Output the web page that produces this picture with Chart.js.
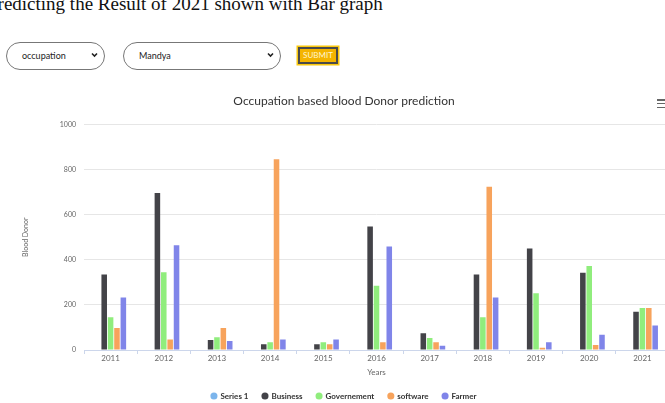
<!DOCTYPE html>
<html>
<head>
<meta charset="utf-8">
<script src="https://cdn.jsdelivr.net/npm/chart.js@4"></script>
<style>
  html, body { margin: 0; padding: 0; background: #fff; }
  body { width: 665px; height: 403px; overflow: hidden; position: relative; font-family: Lato, sans-serif; }
  h2 { position: absolute; left: -13px; top: -6px; margin: 0; font: normal 19px/19px "Liberation Serif", serif; color: #111; white-space: nowrap; }
  .sel { position: absolute; top: 42px; height: 28px; box-sizing: border-box; border: 1.5px solid #777; border-radius: 14px;
         font-size: 9px; color: #222; line-height: 25px; padding-left: 15px; background: #fff; }
  .sel svg { position: absolute; right: 6px; top: 9px; }
  #btn { position: absolute; left: 298px; top: 47px; width: 40px; height: 17px; box-sizing: border-box; background: #f4b400;
         border: 2px solid #4a4a4a; box-shadow: 0 0 0 1.5px #f9c80e; color: #fff4d0; font-size: 8px; line-height: 13px; text-align: center; }
  #menu { position: absolute; left: 657px; top: 99px; width: 12px; }
  #menu i { display: block; height: 1.6px; background: #666; margin-bottom: 2.3px; }
  #wrap { position: absolute; left: 0; top: 85px; }
</style>
</head>
<body>
<h2>Predicting the Result of 2021 shown with Bar graph</h2>
<div class="sel" style="left:6px;width:99px">occupation<svg width="7" height="6" viewBox="0 0 7 6"><path d="M1 1.5 L3.5 4 L6 1.5" stroke="#222" stroke-width="1.6" fill="none"/></svg></div>
<div class="sel" style="left:123px;width:158px">Mandya<svg width="7" height="6" viewBox="0 0 7 6"><path d="M1 1.5 L3.5 4 L6 1.5" stroke="#222" stroke-width="1.6" fill="none"/></svg></div>
<div id="btn">SUBMIT</div>
<div id="wrap"><canvas id="chart" width="688" height="325"></canvas></div>
<div id="menu"><i></i><i></i><i></i></div>
<script>
  const years = ['2011', '2012', '2013', '2014', '2015', '2016', '2017', '2018', '2019', '2020', '2021'];
  const series1 = [null, null, null, null, null, null, null, null, null, null, null];
  const business = [335, 696, 44, 25, 25, 547, 74, 335, 450, 342, 170];
  const governement = [145, 345, 56, 34, 34, 285, 53, 145, 252, 372, 186];
  const software = [97, 47, 97, 845, 25, 34, 34, 724, 10, 22, 186];
  const farmer = [233, 464, 40, 47, 47, 459, 19, 233, 34, 68, 109];

  Chart.defaults.font.family = 'Lato, sans-serif';
  const ds = (label, data, color) => ({ label, data, backgroundColor: color, borderWidth: 0 });

  new Chart(document.getElementById('chart'), {
    type: 'bar',
    data: {
      labels: years,
      datasets: [
        ds('Series 1', series1, '#7cb5ec'),
        ds('Business', business, '#434348'),
        ds('Governement', governement, '#90ed7d'),
        ds('software', software, '#f7a35c'),
        ds('Farmer', farmer, '#8085e9'),
      ],
    },
    options: {
      responsive: false,
      animation: false,
      datasets: { bar: { categoryPercentage: 0.6, barPercentage: 0.87 } },
      plugins: {
        title: { display: true, text: 'Occupation based blood Donor prediction', color: '#333', font: { size: 12, weight: 'normal' }, padding: { top: 9, bottom: 16 } },
        legend: {
          position: 'bottom',
          labels: { usePointStyle: true, pointStyle: 'circle', boxWidth: 5, boxHeight: 5, padding: 14, color: '#333', font: { size: 8, weight: 'bold' } },
        },
        tooltip: { enabled: false },
      },
      scales: {
        x: {
          grid: { display: true, drawOnChartArea: false, drawTicks: true, tickLength: 4, color: '#ccd6eb' },
          border: { color: '#ccd6eb' },
          ticks: { color: '#666', font: { size: 8 }, padding: 0 },
          title: { display: true, text: 'Years', color: '#666', font: { size: 8 }, padding: { top: 0, bottom: 1 } },
          afterFit: (s) => { s.height = 28; },
        },
        y: {
          min: 0, max: 1000,
          ticks: { stepSize: 200, color: '#666', font: { size: 7 }, padding: 8, callback: (v) => String(v) },
          grid: { color: '#e6e6e6', drawTicks: false },
          border: { display: false },
          title: { display: true, text: 'Blood Donor', color: '#666', font: { size: 7 }, padding: { top: 22, bottom: 0 } },
          afterFit: (s) => { s.width = 84; },
        },
        pad: {
          position: 'right',
          grid: { display: false },
          ticks: { display: false },
          border: { display: false },
          afterFit: (s) => { s.width = 19; },
        },
      },
    },
  });
</script>
</body>
</html>
